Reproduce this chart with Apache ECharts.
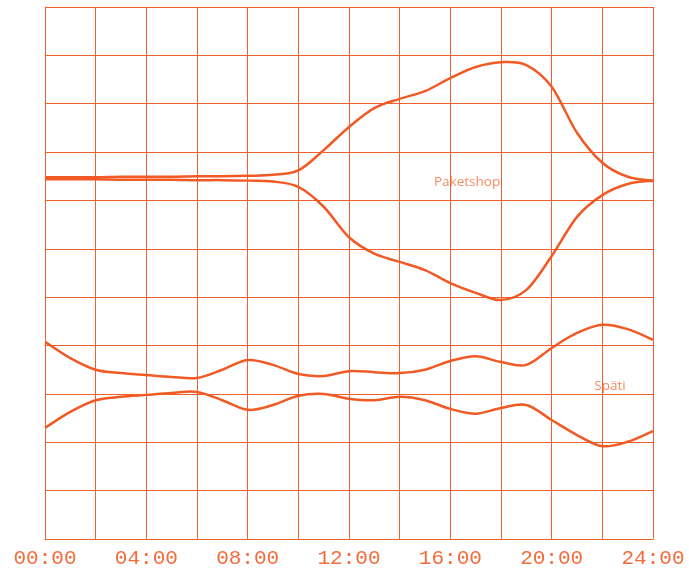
<!DOCTYPE html>
<html>
<head>
<meta charset="utf-8">
<script src="https://cdn.jsdelivr.net/npm/echarts@6/dist/echarts.min.js"></script>
<style>
  html, body { margin: 0; padding: 0; background: #fff; }
  #chart { width: 689px; height: 575px; }
</style>
</head>
<body>
<div id="chart"></div>
<script>
// hours 0..24, one value per hour
var hours = [0, 1, 2, 3, 4, 5, 6, 7, 8, 9, 10, 11, 12, 13, 14, 15, 16, 17, 18, 19, 20, 21, 22, 23, 24]
var xTicks = ['00:00', '04:00', '08:00', '12:00', '16:00', '20:00', '24:00']

// Paketshop stream, upper and lower edge
var paketshopTop = [7.48, 7.48, 7.48, 7.49, 7.49, 7.49, 7.50, 7.50, 7.51, 7.53, 7.62, 8.04, 8.52, 8.91, 9.10, 9.26, 9.53, 9.76, 9.86, 9.80, 9.35, 8.40, 7.78, 7.49, 7.41]
var paketshopBottom = [7.44, 7.44, 7.44, 7.43, 7.43, 7.43, 7.42, 7.42, 7.41, 7.39, 7.28, 6.87, 6.24, 5.90, 5.73, 5.56, 5.29, 5.09, 4.94, 5.15, 5.85, 6.66, 7.11, 7.34, 7.41]

// Späti stream, upper and lower edge
var spaetiTop = [4.08, 3.74, 3.50, 3.43, 3.39, 3.35, 3.33, 3.50, 3.70, 3.60, 3.41, 3.37, 3.47, 3.45, 3.43, 3.50, 3.68, 3.78, 3.66, 3.60, 3.95, 4.26, 4.43, 4.34, 4.12]
var spaetiBottom = [2.30, 2.63, 2.87, 2.94, 2.98, 3.02, 3.04, 2.87, 2.67, 2.77, 2.96, 3.00, 2.90, 2.87, 2.94, 2.87, 2.69, 2.59, 2.71, 2.77, 2.46, 2.15, 1.92, 2.01, 2.23]

var labels = [
  { name: 'Paketshop', value: [16.66, 7.38] },
  { name: 'Späti', value: [22.3, 3.16] }
]

var lineColor = '#f15a24'
var gridColor = '#f0602f'

function pairs(ys) {
  return hours.map(function(h, i) { return [h, ys[i]] })
}

// catmull-rom through the hourly points, drawn as one path
function edge(ys) {
  var data = pairs(ys)
  return {
    type: 'custom',
    data: data,
    silent: true,
    clip: true,
    renderItem: function(params, api) {
      if (params.dataIndex !== 0) return null
      var p = data.map(function(d) { return api.coord(d) })
      var d = 'M' + p[0][0] + ' ' + p[0][1]
      for (var i = 0; i < p.length - 1; i++) {
        var p0 = p[i - 1] || p[i]
        var p1 = p[i]
        var p2 = p[i + 1]
        var p3 = p[i + 2] || p2
        var c1x = p1[0] + (p2[0] - p0[0]) / 6
        var c1y = p1[1] + (p2[1] - p0[1]) / 6
        var c2x = p2[0] - (p3[0] - p1[0]) / 6
        var c2y = p2[1] - (p3[1] - p1[1]) / 6
        d += ' C' + c1x + ' ' + c1y + ' ' + c2x + ' ' + c2y + ' ' + p2[0] + ' ' + p2[1]
      }
      return {
        type: 'path',
        shape: { pathData: d },
        style: { fill: null, stroke: lineColor, lineWidth: 2.5 }
      }
    }
  }
}

var chart = echarts.init(document.getElementById('chart'))
chart.setOption({
  animation: false,
  grid: { left: 45, right: 36, top: 7, bottom: 36 },
  xAxis: {
    type: 'value',
    min: 0,
    max: 24,
    interval: 2,
    axisLine: { show: true, lineStyle: { color: gridColor, width: 1 } },
    axisTick: { show: false },
    splitLine: { show: true, lineStyle: { color: gridColor, width: 1 } },
    axisLabel: {
      color: '#f26b3a',
      fontFamily: 'Liberation Mono',
      fontSize: 21,
      margin: 9,
      showMinLabel: true,
      showMaxLabel: true,
      formatter: function(v) {
        if (v % 4 !== 0) return ''
        return xTicks[v / 4]
      }
    }
  },
  yAxis: {
    type: 'value',
    min: 0,
    max: 11,
    interval: 1,
    axisLine: { show: true, lineStyle: { color: gridColor, width: 1 } },
    axisTick: { show: false },
    axisLabel: { show: false },
    splitLine: { show: true, lineStyle: { color: gridColor, width: 1 } }
  },
  series: [
    edge(paketshopTop),
    edge(paketshopBottom),
    edge(spaetiTop),
    edge(spaetiBottom),
    {
      type: 'scatter',
      data: labels,
      symbolSize: 0,
      silent: true,
      label: {
        show: true,
        position: 'inside',
        formatter: '{b}',
        color: '#f26b3a',
        fontFamily: 'Open Sans',
        fontSize: 13.5
      }
    }
  ]
})
</script>
</body>
</html>
